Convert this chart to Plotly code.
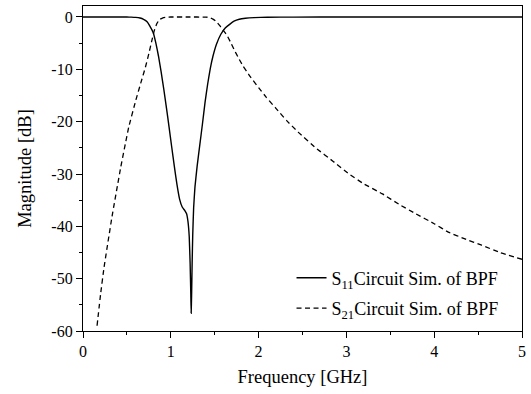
import plotly.graph_objects as go

# S11 of the band-pass filter circuit simulation (GHz, dB)
s11_freq = [0, 0.3, 0.5, 0.55, 0.6, 0.65, 0.69, 0.73, 0.76, 0.80, 0.83, 0.86, 0.89,
            0.92, 0.95, 0.98, 1.01, 1.04, 1.07, 1.10, 1.13, 1.16, 1.18, 1.195, 1.21,
            1.22, 1.228, 1.232, 1.237, 1.243, 1.25, 1.26, 1.275, 1.30, 1.33, 1.36, 1.39,
            1.42, 1.45, 1.48, 1.52, 1.57, 1.62, 1.67, 1.72, 1.78, 1.85, 1.95, 2.1, 2.4,
            3.0, 4.0, 5.0]
s11_db = [0, 0, -0.01, -0.03, -0.08, -0.2, -0.45, -0.9, -1.7, -3.0, -5.0, -7.5, -10.5,
          -13.8, -17.3, -21.0, -24.8, -28.5, -32.0, -34.8, -36.3, -37.0, -37.6, -39.0, -42.0,
          -47.0, -53.0, -56.6, -53.0, -47.0, -41.5, -36.5, -32.5, -28.5, -24.5, -20.5, -16.3,
          -12.8, -9.8, -7.5, -5.2, -3.3, -2.1, -1.4, -0.8, -0.44, -0.25, -0.12, -0.05, -0.02,
          0, 0, 0]

# S21 of the band-pass filter circuit simulation (GHz, dB)
s21_freq = [0.16, 0.2, 0.24, 0.33, 0.43, 0.52, 0.6, 0.66, 0.71, 0.75, 0.78, 0.81, 0.84,
            0.87, 0.91, 0.95, 1.0, 1.2, 1.40, 1.44, 1.48, 1.52, 1.56, 1.60, 1.64, 1.68,
            1.72, 1.77, 1.82, 1.90, 2.0, 2.09, 2.2, 2.32, 2.45, 2.65, 2.85, 3.03, 3.2,
            3.41, 3.6, 3.79, 4.0, 4.16, 4.35, 4.54, 4.75, 5.0]
s21_db = [-59, -53, -47.8, -38.2, -28.7, -21.1, -16, -12.5, -9.65, -7, -4.8, -2.7, -1.3,
          -0.5, -0.15, -0.03, 0, 0, -0.02, -0.1, -0.4, -0.9, -1.7, -2.6, -3.5, -4.8,
          -6.2, -7.8, -9.3, -11.3, -13.5, -15.4, -17.5, -19.8, -22, -25, -27.6, -30, -31.9,
          -33.8, -35.8, -37.6, -39.5, -41.1, -42.4, -43.6, -45, -46.3]

x_ticks = [0, 1, 2, 3, 4, 5]
y_ticks = [0, -10, -20, -30, -40, -50, -60]

serif = "Liberation Serif"

fig = go.Figure()
fig.add_trace(go.Scatter(
    x=s11_freq, y=s11_db, mode="lines",
    name="S<sub>11</sub>Circuit Sim. of BPF", legendgroup="s11",
    line=dict(color="black", width=1.4, shape="spline", smoothing=0.3),
))
fig.add_trace(go.Scatter(
    x=s21_freq, y=s21_db, mode="lines",
    name="S<sub>21</sub>Circuit Sim. of BPF", legendgroup="s21",
    line=dict(color="black", width=1.3, dash="5px,3.5px", shape="spline", smoothing=0.3),
))

axis_common = dict(
    showline=True, linecolor="black", linewidth=1.3, mirror=True,
    ticks="outside", ticklen=6, tickwidth=1.2, tickcolor="black",
    showgrid=False, zeroline=False,
    tickfont=dict(family=serif, size=16, color="black"),
)

fig.update_xaxes(
    range=[0, 5], tickvals=x_ticks, ticktext=[str(v) for v in x_ticks],
    minor=dict(ticks="outside", ticklen=3, tickwidth=1.2, tickcolor="black", dtick=0.5),
    title=dict(text="Frequency [GHz]", font=dict(family=serif, size=18.5, color="black"), standoff=10),
    **axis_common,
)
fig.update_yaxes(
    range=[-60, 2.1], tickvals=y_ticks, ticktext=[str(v) for v in y_ticks],
    minor=dict(ticks="outside", ticklen=3, tickwidth=1.2, tickcolor="black", dtick=5),
    title=dict(text="Magnitude [dB]", font=dict(family=serif, size=18.5, color="black"), standoff=14),
    **axis_common,
)

fig.update_layout(
    width=531, height=394,
    margin=dict(l=82.5, r=6.7, t=5, b=63),
    paper_bgcolor="white", plot_bgcolor="white",
    showlegend=True,
    legend=dict(
        x=0.475, y=0.22, xanchor="left", yanchor="top",
        bgcolor="rgba(0,0,0,0)", borderwidth=0,
        font=dict(family=serif, size=18, color="black"),
        traceorder="grouped", tracegroupgap=4,
    ),
)

fig.write_html("out.html")
